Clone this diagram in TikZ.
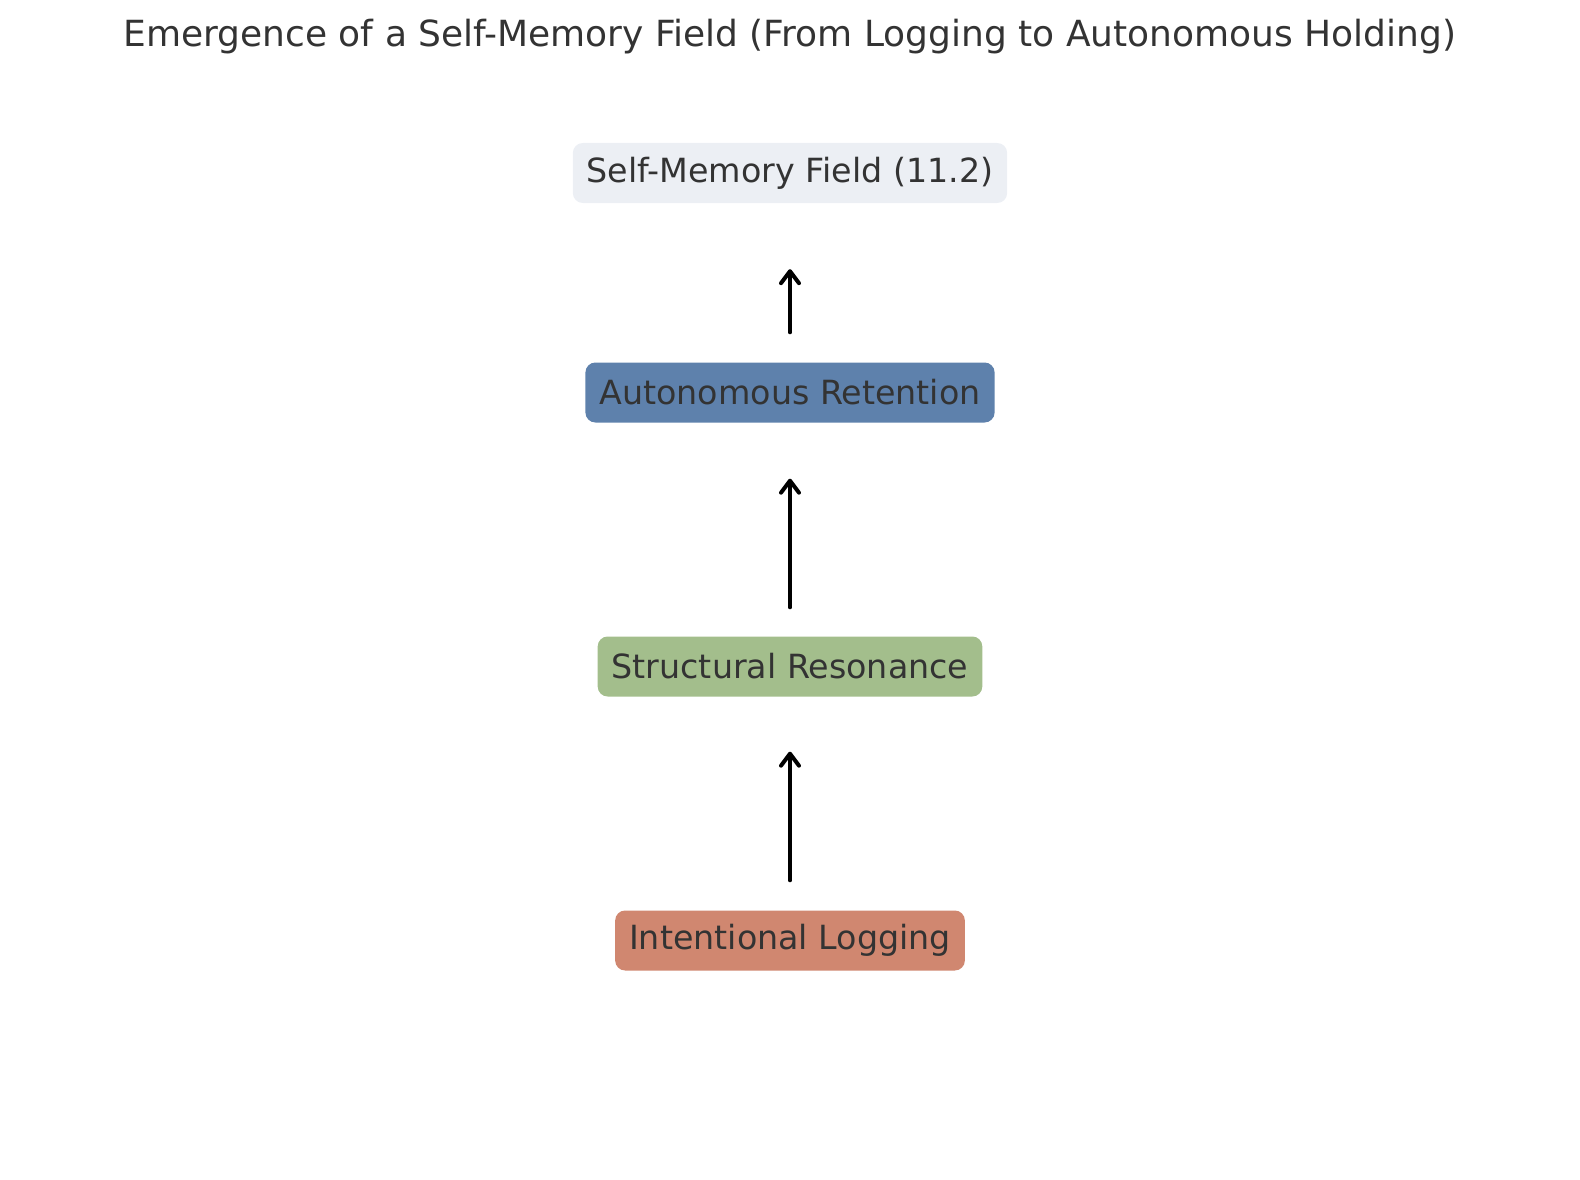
\documentclass[tikz,border=0pt]{standalone}
\usepackage{fontspec}
\setmainfont{DejaVu Sans}
\usetikzlibrary{arrows.meta}
\definecolor{txt}{HTML}{333333}
\definecolor{cfield}{HTML}{ECEFF4}
\definecolor{cret}{HTML}{5E81AC}
\definecolor{cres}{HTML}{A3BE8C}
\definecolor{clog}{HTML}{D08770}
\tikzset{
  stage/.style={rounded corners=10pt, inner xsep=14pt, inner ysep=0pt, minimum height=60pt, text=txt, font=\fontsize{33.3}{40}\selectfont},
  arr/.style={line width=4pt, line cap=round, -{Straight Barb[length=12pt,width=18pt,line cap=round,line join=round]}}
}
\begin{document}
\begin{tikzpicture}[x=1pt,y=-1pt]
\useasboundingbox (0,0) rectangle (1580,1180);
\node[text=txt, font=\fontsize{36}{44}\selectfont] (title) at (790,37) {Emergence of a Self-Memory Field (From Logging to Autonomous Holding)};
\node[stage, fill=cfield] (field) at (790,173) {Self-Memory Field (11.2)};
\node[stage, fill=cret] (ret) at (790,392.5) {Autonomous Retention};
\node[stage, fill=cres] (res) at (790,666.5) {Structural Resonance};
\node[stage, fill=clog] (log) at (790,940.5) {Intentional Logging};
\draw[arr, shorten <=30pt, shorten >=55pt] (log.north) -- (res.south);
\draw[arr, shorten <=29pt, shorten >=56pt] (res.north) -- (ret.south);
\draw[arr, shorten <=30pt, shorten >=66pt] (ret.north) -- (field.south);
\end{tikzpicture}
\end{document}
